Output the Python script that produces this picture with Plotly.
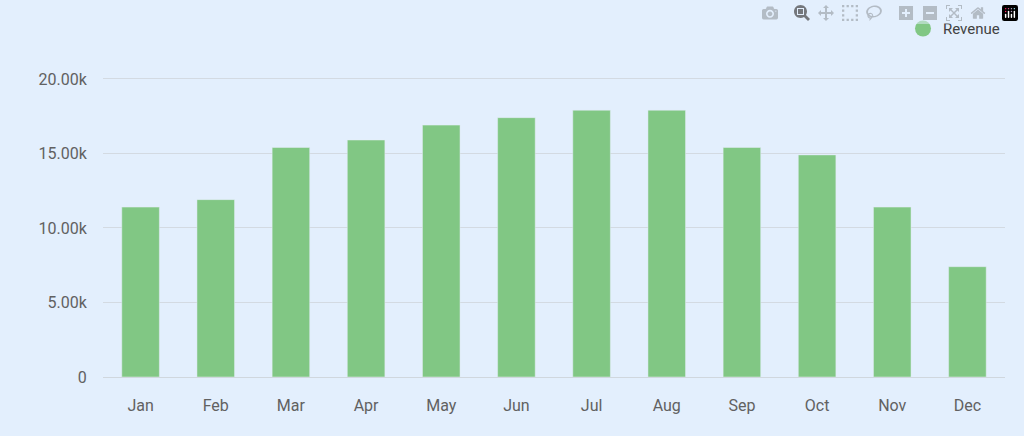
import plotly.graph_objects as go

months = ["Jan","Feb","Mar","Apr","May","Jun","Jul","Aug","Sep","Oct","Nov","Dec"]
revenue = [11400, 11900, 15400, 15900, 16900, 17400, 17900, 17900, 15400, 14900, 11400, 7400]
tick_vals = [0, 5000, 10000, 15000, 20000]
tick_text = ["0", "5.00k", "10.00k", "15.00k", "20.00k"]

bg = "#e3effd"
green = "#81c784"
fig = go.Figure()
fig.add_trace(go.Bar(x=months, y=revenue, name="Revenue", marker_color=green,
                     width=0.5, showlegend=False))
fig.add_trace(go.Scatter(x=[None], y=[None], mode="markers", name="Revenue",
                         marker=dict(symbol="circle", size=18, color=green)))
fig.update_layout(
    width=1024, height=436, paper_bgcolor=bg, plot_bgcolor=bg,
    margin=dict(l=103, r=19, t=62, b=59),
    font=dict(family="Roboto", size=16, color="#616161"),
    legend=dict(x=1, y=1.06, xanchor="right", yanchor="bottom", bgcolor="rgba(0,0,0,0)",
                font=dict(size=15, color="#424242")),
    xaxis=dict(showgrid=False, showline=True, linecolor="#d0d7de", ticks="outside", ticklen=14,
               tickcolor=bg),
    yaxis=dict(range=[0, 21000], tickvals=tick_vals, ticktext=tick_text, gridcolor="#d3dae2",
               zeroline=False, showline=False, ticks="outside", ticklen=12, tickcolor=bg),
)
fig.write_html("out.html", post_script="document.body.style.margin='0';document.body.style.background='%s';" % bg)
